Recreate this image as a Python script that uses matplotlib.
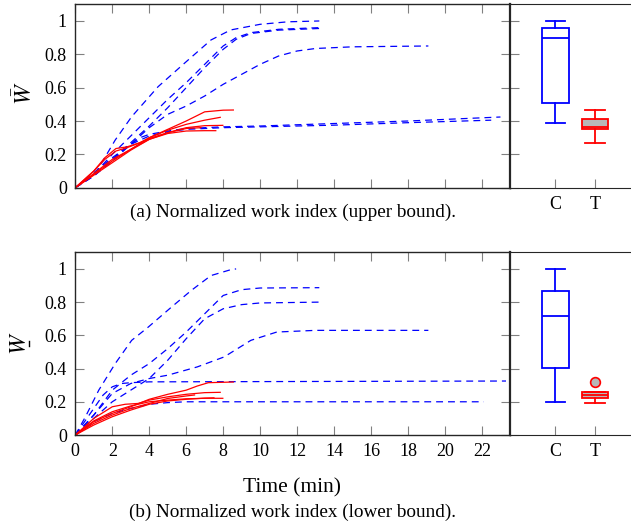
### work index plots: upper / lower bound, curves + boxplots
import numpy as np
import matplotlib
matplotlib.use("Agg")
import matplotlib.pyplot as plt
from matplotlib.lines import Line2D

plt.rcParams['font.family'] = ['Liberation Serif', 'DejaVu Serif']
plt.rcParams['mathtext.fontset'] = 'stix'

### upper bound curves (control = blue dashed, treatment = red)
ub_ctrl_t = [[0, 1.09, 2.16, 3.05, 4.48, 5.9, 7.34, 8.4, 10, 11.5, 13.2],
             [0, 1, 2, 3, 4, 5, 6, 7, 8, 8.7, 9.5, 11, 13.2],
             [0, 1, 2, 3, 4, 5, 6, 7, 8, 8.7, 9.5, 11, 13.2],
             [0, 1, 2, 3, 4, 5, 6, 7, 8, 9, 10, 11, 12, 13, 15, 19.1],
             [0, 1, 2, 3, 3.5, 4, 5, 6, 8, 10, 14, 18, 23],
             [0, 1, 2, 3, 4, 5, 6, 8, 10, 14, 18, 22.5]]
ub_ctrl_w = [[0, 0.086, 0.286, 0.426, 0.606, 0.746, 0.886, 0.946, 0.98, 0.995, 1.0],
             [0, 0.08, 0.2, 0.31, 0.42, 0.53, 0.63, 0.74, 0.85, 0.9, 0.93, 0.95, 0.96],
             [0, 0.07, 0.17, 0.27, 0.37, 0.48, 0.6, 0.72, 0.83, 0.89, 0.925, 0.945, 0.955],
             [0, 0.07, 0.16, 0.26, 0.36, 0.44, 0.49, 0.55, 0.62, 0.68, 0.74, 0.79, 0.82, 0.835, 0.845, 0.85],
             [0, 0.08, 0.17, 0.26, 0.3, 0.32, 0.34, 0.355, 0.365, 0.37, 0.385, 0.4, 0.424],
             [0, 0.09, 0.18, 0.26, 0.31, 0.335, 0.35, 0.36, 0.365, 0.375, 0.39, 0.405]]
ub_trt_t = [[0, 1, 2, 3, 4, 5, 6, 7, 8, 8.55],
            [0, 1, 1.6, 2.2, 2.8, 3.5, 4, 5, 6, 7, 7.84],
            [0, 1, 1.6, 2.2, 2.8, 3.5, 4, 5, 6, 7, 7.98],
            [0, 1, 2, 3, 4, 5, 6, 7, 7.6],
            [0, 1, 2, 3, 4, 5, 6, 6.8]]
ub_trt_w = [[0, 0.08, 0.16, 0.23, 0.3, 0.35, 0.4, 0.455, 0.465, 0.466],
            [0, 0.1, 0.17, 0.22, 0.24, 0.27, 0.3, 0.345, 0.38, 0.405, 0.422],
            [0, 0.1, 0.18, 0.235, 0.245, 0.27, 0.295, 0.33, 0.36, 0.372, 0.374],
            [0, 0.085, 0.17, 0.23, 0.29, 0.325, 0.34, 0.342, 0.342],
            [0, 0.075, 0.15, 0.225, 0.29, 0.33, 0.355, 0.36]]

### lower bound curves
lb_ctrl_t = [[0, 0.55, 1.27, 2.16, 3.05, 3.95, 5.2, 6.27, 7.34, 8.4, 8.7],
             [0, 1, 2, 3, 4, 5, 6, 7, 8, 9, 10, 13.2],
             [0, 1, 2, 3, 4, 5, 6, 7, 8, 9, 10, 13.2],
             [0, 1, 2, 3, 4, 5, 6.6, 8.05, 9.5, 10.9, 13, 19.1],
             [0, 0.5, 1, 1.5, 2, 2.5, 3, 4, 23.3],
             [0, 1, 2, 3, 4, 5, 6, 22.1]]
lb_ctrl_w = [[0, 0.11, 0.27, 0.43, 0.57, 0.65, 0.77, 0.87, 0.96, 0.995, 1.0],
             [0, 0.12, 0.27, 0.36, 0.43, 0.52, 0.62, 0.73, 0.84, 0.875, 0.885, 0.887],
             [0, 0.1, 0.2, 0.27, 0.34, 0.45, 0.58, 0.7, 0.76, 0.785, 0.795, 0.8],
             [0, 0.12, 0.25, 0.31, 0.34, 0.36, 0.41, 0.47, 0.57, 0.62, 0.63, 0.63],
             [0, 0.08, 0.16, 0.24, 0.29, 0.31, 0.315, 0.32, 0.325],
             [0, 0.08, 0.13, 0.16, 0.185, 0.195, 0.2, 0.2]]
lb_trt_t = [[0, 1, 2, 3, 4, 5, 6, 6.6, 7.2, 8.55],
            [0, 1, 2, 2.7, 3.4, 4, 5, 6, 7, 7.84],
            [0, 1, 2, 3, 4, 5, 6, 7, 7.98],
            [0, 1, 2, 3, 4, 5, 6, 6.45],
            [0, 1, 2, 3, 4, 5, 6, 7, 7.5]]
lb_trt_w = [[0, 0.08, 0.13, 0.17, 0.215, 0.245, 0.27, 0.295, 0.315, 0.319],
            [0, 0.1, 0.17, 0.185, 0.19, 0.21, 0.23, 0.245, 0.255, 0.257],
            [0, 0.085, 0.14, 0.175, 0.2, 0.21, 0.218, 0.221, 0.221],
            [0, 0.07, 0.12, 0.16, 0.19, 0.22, 0.235, 0.241],
            [0, 0.06, 0.11, 0.15, 0.185, 0.205, 0.215, 0.222, 0.224]]

### box stats: whislo, q1, med, q3, whishi
box_labels = ["C", "T"]
ub_box = [[0.39, 0.51, 0.90, 0.96, 1.0], [0.266, 0.35, 0.366, 0.412, 0.466]]
lb_box = [[0.2, 0.402, 0.717, 0.867, 1.0], [0.195, 0.221, 0.243, 0.257, 0.257]]
ub_fliers = [[], []]
lb_fliers = [[], [0.317]]

xticks = np.arange(0, 23, 2)
yticks = [0, 0.2, 0.4, 0.6, 0.8, 1]
ytlabels = ["0", "0.2", "0.4", "0.6", "0.8", "1"]

W, H = 631, 524
fig = plt.figure(figsize=(W/100, H/100), dpi=100)

def px_axes(l, r, t, b):
    return fig.add_axes([l/W, 1 - b/H, (r - l)/W, (b - t)/H])

tick_kw = dict(direction='in', length=6.5, width=0.8, color='0.5', labelsize=13, pad=6)

def draw_panel(top, bot, ct, cw, tt, tw, stats, fliers, show_x):
    ax = px_axes(75.3, 509.7, top, bot)
    for t, w in zip(ct, cw):
        ax.plot(t, w, color='blue', lw=0.9, ls=(0, (5.5, 4)))
    for t, w in zip(tt, tw):
        ax.plot(t, w, color='red', lw=0.9)
    ax.set_xlim(0, 23.5)
    ax.set_ylim(0, 1.1)
    ax.set_xticks(xticks)
    ax.set_yticks(yticks)
    ax.set_yticklabels(ytlabels)
    ax.tick_params(top=True, right=True, labelbottom=show_x, **tick_kw)
    if show_x:
        ax.set_xlabel("Time (min)", fontsize=15.5, labelpad=13)
    for s in ax.spines.values():
        s.set_linewidth(1.0)
        s.set_color('0.15')

    bx = px_axes(509.7, 640, top, bot)
    colors = ['blue', 'red']
    faces = ['none', '0.72']
    for i in range(2):
        st = dict(whislo=stats[i][0], q1=stats[i][1], med=stats[i][2],
                  q3=stats[i][3], whishi=stats[i][4], fliers=fliers[i])
        c = colors[i]
        bx.bxp([st], positions=[i + 1], widths=0.67, capwidths=0.5, patch_artist=True,
               boxprops=dict(facecolor=faces[i], edgecolor=c, lw=1.3),
               whiskerprops=dict(color=c, lw=1.3), capprops=dict(color=c, lw=1.3),
               medianprops=dict(color=c, lw=1.3),
               flierprops=dict(marker='o', markersize=7, markerfacecolor='0.72',
                               markeredgecolor=c, markeredgewidth=1.2))
    bx.set_xlim(-0.16, 3.15)
    bx.set_ylim(0, 1.1)
    bx.set_xticks([1, 2])
    bx.set_xticklabels(box_labels)
    bx.set_yticks(yticks)
    bx.tick_params(labelleft=False, **tick_kw)
    bx.spines['left'].set_linewidth(1.6)
    for s in bx.spines.values():
        s.set_color('0.15')
    return ax, bx

draw_panel(4.3, 187.7, ub_ctrl_t, ub_ctrl_w, ub_trt_t, ub_trt_w, ub_box, ub_fliers, False)
draw_panel(252.3, 435, lb_ctrl_t, lb_ctrl_w, lb_trt_t, lb_trt_w, lb_box, lb_fliers, True)

### y labels: W-bar on top, W-underline below (mathtext has no \underline)
fig.text(25/W, 1 - 93/H, r'$\bar{W}$', rotation=90, ha='center', va='center', fontsize=17)
fig.text(20.5/W, 1 - 343.5/H, r'$W$', rotation=90, ha='center', va='center', fontsize=17)
fig.add_artist(Line2D([29.5/W, 29.5/W], [1 - 340.5/H, 1 - 346/H], color='black', lw=1.0))

fig.text(292.5/W, 1 - 212/H, "(a) Normalized work index (upper bound).",
         ha='center', va='center', fontsize=13.8)
fig.text(292.5/W, 1 - 512/H, "(b) Normalized work index (lower bound).",
         ha='center', va='center', fontsize=13.8)

fig.savefig("out.png", dpi=100)
